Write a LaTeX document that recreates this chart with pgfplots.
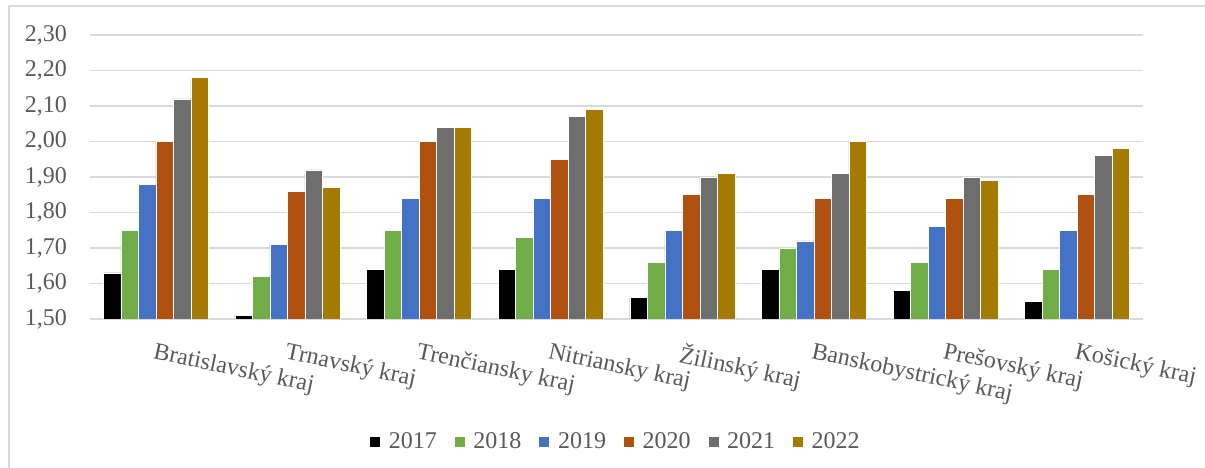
\documentclass[border=0pt]{standalone}
\usepackage{pgfplots}
\pgfplotsset{compat=1.18}
\usepackage{fontspec}
\setmainfont{Liberation Serif}
\definecolor{c17}{HTML}{000000}
\definecolor{c18}{HTML}{70AD47}
\definecolor{c19}{HTML}{4472C4}
\definecolor{c20}{HTML}{B1510F}
\definecolor{c21}{HTML}{6E6E6E}
\definecolor{c22}{HTML}{A47B00}
\definecolor{gridgray}{HTML}{D9D9D9}
\definecolor{txtgray}{HTML}{595959}

\begin{document}
\begin{tikzpicture}
\useasboundingbox (0,0) rectangle (602.5bp,234bp);
% chart frame (left and top edges only are visible)
\draw[gridgray, line width=1bp] (4.3bp,0) -- (4.3bp,231bp) -- (602.5bp,231bp);
\begin{axis}[
  at={(45bp,74.5bp)}, anchor=south west,
  scale only axis,
  width=526.5bp, height=142bp,
  ybar=0pt, bar width=8.75bp,
  xmin=-0.5, xmax=7.5,
  ymin=1.5, ymax=2.3,
  ytick={1.5,1.6,1.7,1.8,1.9,2.0,2.1,2.2,2.3},
  xtick=data,
  xticklabels={Bratislavský kraj, Trnavský kraj, Trenčiansky kraj, Nitriansky kraj,
               Žilinský kraj, Banskobystrický kraj, Prešovský kraj, Košický kraj},
  ymajorgrids,
  grid style={gridgray, line width=0.85bp},
  axis line style={draw=none},
  tick style={draw=none},
  /pgf/number format/fixed,
  /pgf/number format/fixed zerofill,
  /pgf/number format/precision=2,
  /pgf/number format/use comma,
  /pgf/number format/assume math mode=true,
  yticklabel style={text=txtgray, font=\fontsize{12bp}{14bp}\selectfont, anchor=east, xshift=-8bp},
  xticklabel style={text=txtgray, font=\fontsize{12bp}{14bp}\selectfont,
                    anchor=north west, inner sep=0pt, yshift=-7bp, rotate=-12},
  legend style={at={(0.5,-0.432)}, anchor=center, legend columns=6, draw=none,
                font=\fontsize{12bp}{14bp}\selectfont, text=txtgray, inner xsep=0pt,
                /tikz/every odd column/.append style={column sep=2bp},
                /tikz/every even column/.append style={column sep=6.5bp}},
  legend image code/.code={\fill[#1] (0bp,-2.75bp) rectangle (5.5bp,2.75bp);},
]
\addplot[fill=c17, draw=white, line width=0.3bp] coordinates
  {(0,1.63) (1,1.51) (2,1.64) (3,1.64) (4,1.56) (5,1.64) (6,1.58) (7,1.55)};
\addplot[fill=c18, draw=white, line width=0.3bp] coordinates
  {(0,1.75) (1,1.62) (2,1.75) (3,1.73) (4,1.66) (5,1.70) (6,1.66) (7,1.64)};
\addplot[fill=c19, draw=white, line width=0.3bp] coordinates
  {(0,1.88) (1,1.71) (2,1.84) (3,1.84) (4,1.75) (5,1.72) (6,1.76) (7,1.75)};
\addplot[fill=c20, draw=white, line width=0.3bp] coordinates
  {(0,2.00) (1,1.86) (2,2.00) (3,1.95) (4,1.85) (5,1.84) (6,1.84) (7,1.85)};
\addplot[fill=c21, draw=white, line width=0.3bp] coordinates
  {(0,2.12) (1,1.92) (2,2.04) (3,2.07) (4,1.90) (5,1.91) (6,1.90) (7,1.96)};
\addplot[fill=c22, draw=white, line width=0.3bp] coordinates
  {(0,2.18) (1,1.87) (2,2.04) (3,2.09) (4,1.91) (5,2.00) (6,1.89) (7,1.98)};
\legend{2017, 2018, 2019, 2020, 2021, 2022}
\end{axis}
\end{tikzpicture}
\end{document}
